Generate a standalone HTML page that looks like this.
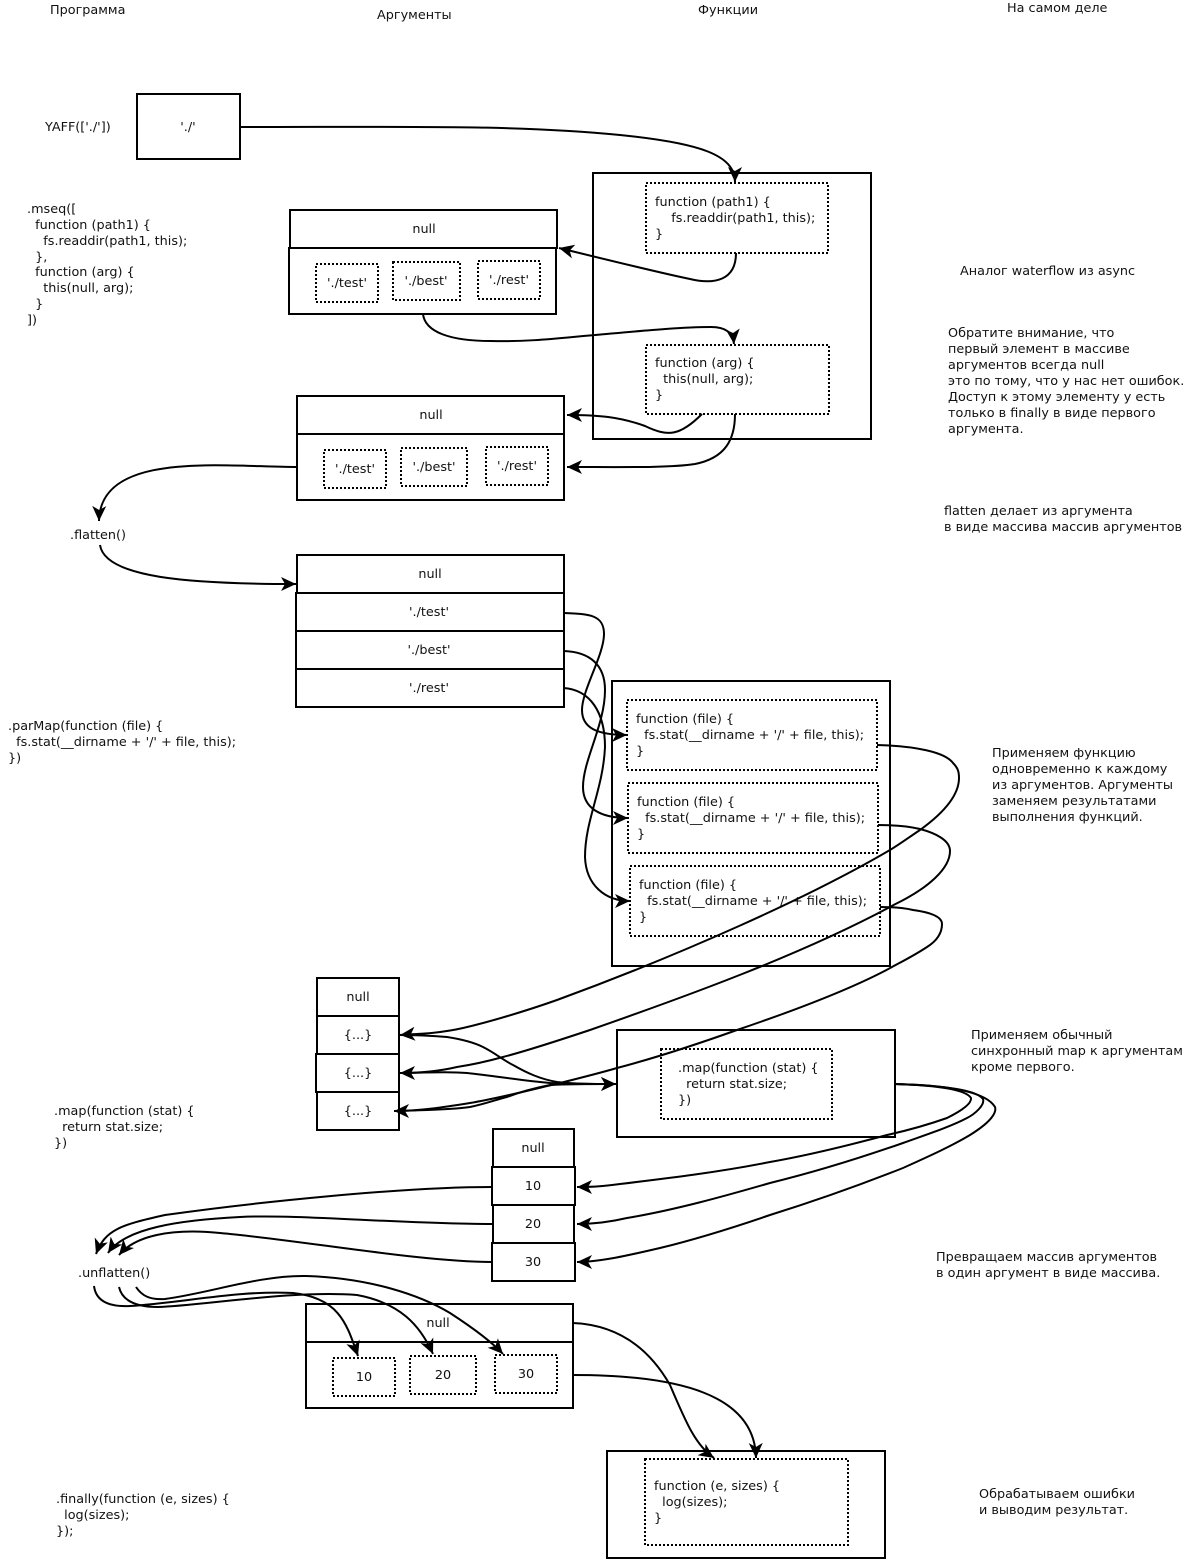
<!DOCTYPE html>
<html><head><meta charset="utf-8"><style>
html,body{margin:0;padding:0;background:#fff}
svg{display:block}
text{font-family:"DejaVu Sans",sans-serif;font-size:12.8px;fill:#111;white-space:pre}
.c{text-anchor:middle}
.b{fill:none;stroke:#000;stroke-width:2}
.d{fill:none;stroke:#000;stroke-width:2;stroke-dasharray:2 2}
.l{fill:none;stroke:#000;stroke-width:2}
.a{marker-end:url(#ah)}
</style></head><body>
<svg width="1186" height="1560" viewBox="0 0 1186 1560" xmlns="http://www.w3.org/2000/svg">
<defs><marker id="ah" markerUnits="userSpaceOnUse" markerWidth="16" markerHeight="16" viewBox="0 0 16 16" refX="15" refY="8" orient="auto" overflow="visible"><path d="M15,8 L0,1 L4,8 L0,15 Z" fill="#000"/></marker></defs>

<text x="50" y="14">Программа</text>
<text x="377" y="19">Аргументы</text>
<text x="698" y="14">Функции</text>
<text x="1007" y="12">На самом деле</text>

<rect class="b" x="137" y="94" width="103" height="65"/>
<text x="45" y="131">YAFF(['./'])</text>
<text class="c" x="188" y="131">'./'</text>

<text x="27" y="213">.mseq([</text>
<text x="27" y="229">  function (path1) {</text>
<text x="27" y="245">    fs.readdir(path1, this);</text>
<text x="27" y="261">  },</text>
<text x="27" y="276">  function (arg) {</text>
<text x="27" y="292">    this(null, arg);</text>
<text x="27" y="308">  }</text>
<text x="27" y="324">])</text>

<rect class="b" x="593" y="173" width="278" height="266"/>
<rect class="d" x="646" y="183" width="182" height="70"/>
<text x="655" y="206">function (path1) {</text>
<text x="655" y="222">    fs.readdir(path1, this);</text>
<text x="655" y="238">}</text>
<rect class="d" x="646" y="345" width="183" height="69"/>
<text x="655" y="367">function (arg) {</text>
<text x="655" y="383">  this(null, arg);</text>
<text x="655" y="399">}</text>

<rect class="b" x="290" y="210" width="267" height="38"/>
<rect class="b" x="289" y="248" width="267" height="66"/>
<text class="c" x="424" y="233">null</text>
<rect class="d" x="316" y="264" width="62" height="38"/>
<rect class="d" x="393" y="262" width="67" height="38"/>
<rect class="d" x="478" y="261" width="62" height="38"/>
<text class="c" x="347" y="287">'./test'</text>
<text class="c" x="426" y="285">'./best'</text>
<text class="c" x="509" y="284">'./rest'</text>

<rect class="b" x="297" y="396" width="267" height="38"/>
<rect class="b" x="297" y="434" width="267" height="66"/>
<text class="c" x="431" y="419">null</text>
<rect class="d" x="324" y="450" width="62" height="38"/>
<rect class="d" x="401" y="448" width="66" height="38"/>
<rect class="d" x="486" y="447" width="62" height="38"/>
<text class="c" x="355" y="473">'./test'</text>
<text class="c" x="434" y="471">'./best'</text>
<text class="c" x="517" y="470">'./rest'</text>

<text x="960" y="275">Аналог waterflow из async</text>
<text x="948" y="337">Обратите внимание, что</text>
<text x="948" y="353">первый элемент в массиве</text>
<text x="948" y="369">аргументов всегда null</text>
<text x="948" y="385">это по тому, что у нас нет ошибок.</text>
<text x="948" y="401">Доступ к этому элементу у есть</text>
<text x="948" y="417">только в finally в виде первого</text>
<text x="948" y="433">аргумента.</text>
<text x="944" y="515">flatten делает из аргумента</text>
<text x="944" y="531">в виде массива массив аргументов</text>

<text x="70" y="539">.flatten()</text>

<rect class="b" x="297" y="555" width="267" height="38"/>
<rect class="b" x="296" y="593" width="268" height="38"/>
<rect class="b" x="296" y="631" width="268" height="38"/>
<rect class="b" x="296" y="669" width="268" height="38"/>
<text class="c" x="430" y="578">null</text>
<text class="c" x="429" y="616">'./test'</text>
<text class="c" x="429" y="654">'./best'</text>
<text class="c" x="429" y="692">'./rest'</text>

<text x="8" y="730">.parMap(function (file) {</text>
<text x="8" y="746">  fs.stat(__dirname + '/' + file, this);</text>
<text x="8" y="762">})</text>

<rect class="b" x="612" y="681" width="278" height="285"/>
<rect class="d" x="627" y="700" width="250" height="70"/>
<rect class="d" x="628" y="783" width="250" height="70"/>
<rect class="d" x="630" y="866" width="250" height="70"/>
<text x="636" y="723">function (file) {</text>
<text x="636" y="739">  fs.stat(__dirname + '/' + file, this);</text>
<text x="636" y="755">}</text>
<text x="637" y="806">function (file) {</text>
<text x="637" y="822">  fs.stat(__dirname + '/' + file, this);</text>
<text x="637" y="838">}</text>
<text x="639" y="889">function (file) {</text>
<text x="639" y="905">  fs.stat(__dirname + '/' + file, this);</text>
<text x="639" y="921">}</text>

<text x="992" y="757">Применяем функцию</text>
<text x="992" y="773">одновременно к каждому</text>
<text x="992" y="789">из аргументов. Аргументы</text>
<text x="992" y="805">заменяем результатами</text>
<text x="992" y="821">выполнения функций.</text>

<rect class="b" x="317" y="978" width="82" height="38"/>
<rect class="b" x="317" y="1016" width="82" height="38"/>
<rect class="b" x="316" y="1054" width="83" height="38"/>
<rect class="b" x="317" y="1092" width="82" height="38"/>
<text class="c" x="358" y="1001">null</text>
<text class="c" x="358" y="1039">{...}</text>
<text class="c" x="358" y="1077">{...}</text>
<text class="c" x="358" y="1115">{...}</text>

<rect class="b" x="617" y="1030" width="278" height="107"/>
<rect class="d" x="661" y="1049" width="171" height="70"/>
<text x="678" y="1072">.map(function (stat) {</text>
<text x="678" y="1088">  return stat.size;</text>
<text x="678" y="1104">})</text>

<text x="971" y="1039">Применяем обычный</text>
<text x="971" y="1055">синхронный map к аргументам</text>
<text x="971" y="1071">кроме первого.</text>

<text x="54" y="1115">.map(function (stat) {</text>
<text x="54" y="1131">  return stat.size;</text>
<text x="54" y="1147">})</text>

<rect class="b" x="493" y="1129" width="81" height="38"/>
<rect class="b" x="492" y="1167" width="83" height="38"/>
<rect class="b" x="493" y="1205" width="81" height="38"/>
<rect class="b" x="492" y="1243" width="83" height="38"/>
<text class="c" x="533" y="1152">null</text>
<text class="c" x="533" y="1190">10</text>
<text class="c" x="533" y="1228">20</text>
<text class="c" x="533" y="1266">30</text>

<text x="78" y="1277">.unflatten()</text>
<text x="936" y="1261">Превращаем массив аргументов</text>
<text x="936" y="1277">в один аргумент в виде массива.</text>

<rect class="b" x="306" y="1304" width="267" height="38"/>
<rect class="b" x="306" y="1342" width="267" height="66"/>
<text class="c" x="438" y="1327">null</text>
<rect class="d" x="333" y="1358" width="62" height="38"/>
<rect class="d" x="410" y="1356" width="66" height="38"/>
<rect class="d" x="495" y="1355" width="62" height="38"/>
<text class="c" x="364" y="1381">10</text>
<text class="c" x="443" y="1379">20</text>
<text class="c" x="526" y="1378">30</text>

<rect class="b" x="607" y="1451" width="278" height="107"/>
<rect class="d" x="645" y="1459" width="203" height="86"/>
<text x="654" y="1490">function (e, sizes) {</text>
<text x="654" y="1506">  log(sizes);</text>
<text x="654" y="1522">}</text>

<text x="56" y="1503">.finally(function (e, sizes) {</text>
<text x="56" y="1519">  log(sizes);</text>
<text x="56" y="1535">});</text>

<text x="979" y="1498">Обрабатываем ошибки</text>
<text x="979" y="1514">и выводим результат.</text>

<!-- connectors -->
<path class="l a" d="M241,127 C420,127 520,125 620,135 C700,143 735,155 735,182"/>
<path class="l a" d="M736,253 C736,280 715,285 690,279 C670,275 620,263 559,248"/>
<path class="l a" d="M423,314 C425,332 450,341 491,341 C530,342 560,338 595,335 C640,331 680,327 711,327 C725,327 733,332 734,344"/>
<path class="l a" d="M702,414 C680,436 668,437 645,426 C620,417 600,415 567,415"/>
<path class="l a" d="M735,414 C735,440 725,458 695,464 C670,468 620,467 567,467"/>
<path class="l a" d="M297,467 C225,467 100,450 99,521"/>
<path class="l a" d="M100,545 C105,578 190,584 296,584"/>

<path class="l a" d="M564,613 C590,614 604,615 604,634 C604,655 582,690 582,710 C582,728 597,735 627,735"/>
<path class="l a" d="M564,651 C590,652 605,665 605,690 C605,725 583,760 583,787 C583,808 600,818 628,818"/>
<path class="l a" d="M564,688 C590,690 605,712 605,747 C603,790 585,820 585,857 C586,885 605,901 630,901"/>

<path class="l a" d="M877,745 C915,746 945,752 953,763 C958,768 959,772 959,778 C959,798 938,817 920,830 C908,838 900,844 890,850 C810,897 680,955 557,1000 C526,1011 489,1022 463,1028 C437,1034 412,1034 400,1035"/>
<path class="l a" d="M878,825 C895,825 908,826 920,829 C935,833 950,840 950,851 C950,870 925,888 907,898 C900,902 895,904 890,907 C800,955 690,995 590,1030 C560,1040 530,1050 503,1057 C485,1062 470,1065 457,1067 C440,1071 420,1073 400,1073"/>
<path class="l a" d="M880,907 C895,907 905,908 913,910 C928,912 942,916 942,924 C942,935 935,942 927,947 C915,955 905,960 892,967 C850,990 790,1012 737,1030 C695,1045 655,1058 617,1068 C600,1073 580,1078 560,1083 C530,1090 500,1098 470,1103 C445,1107 420,1111 394,1111"/>

<path class="l a" d="M400,1035 C420,1035 435,1036 447,1037 C460,1039 473,1042 483,1047 C495,1053 503,1060 513,1065 C527,1073 540,1079 557,1082 C575,1084 595,1084 616,1084"/>
<path class="l a" d="M400,1073 C425,1073 445,1071 467,1073 C495,1076 525,1081 550,1083 C570,1084 590,1084 616,1084"/>
<path class="l" d="M400,1111 C420,1110 450,1110 470,1107 C485,1104 495,1100 507,1097 C520,1092 535,1088 550,1085 C570,1084 590,1084 616,1084"/>

<path class="l a" d="M895,1084 C925,1085 965,1088 971,1098 C972,1105 955,1114 947,1118 C930,1124 905,1131 887,1135 C850,1145 810,1155 770,1162 C720,1172 670,1178 620,1184 C605,1186 595,1187 577,1187"/>
<path class="l a" d="M895,1084 C930,1085 975,1088 983,1099 C985,1105 975,1114 967,1118 C950,1127 925,1135 903,1143 C860,1158 815,1172 770,1183 C725,1196 675,1210 627,1218 C610,1222 595,1224 577,1224"/>
<path class="l a" d="M895,1084 C940,1085 985,1090 995,1107 C996,1110 995,1113 992,1117 C987,1124 978,1130 970,1135 C950,1147 925,1158 903,1168 C860,1185 815,1201 770,1215 C735,1227 697,1239 660,1248 C630,1255 600,1262 577,1262"/>

<path class="l a" d="M492,1187 C400,1187 250,1203 165,1215 C120,1225 105,1230 96,1254"/>
<path class="l a" d="M492,1224 C400,1224 300,1214 240,1217 C180,1220 125,1228 108,1253"/>
<path class="l a" d="M492,1262 C420,1262 300,1240 220,1233 C170,1228 135,1236 119,1255"/>

<path class="l a" d="M94,1286 C96,1302 110,1307 130,1306 C180,1303 240,1290 293,1293 C340,1298 347,1325 358,1356"/>
<path class="l a" d="M119,1287 C122,1300 135,1307 158,1307 C200,1306 290,1290 357,1295 C400,1303 420,1325 433,1354"/>
<path class="l a" d="M136,1287 C142,1296 150,1300 165,1299 C210,1293 260,1275 306,1276 C370,1278 420,1295 450,1313 C470,1326 490,1340 503,1354"/>

<path class="l a" d="M573,1323 C620,1325 650,1350 670,1385 C685,1420 695,1445 714,1458"/>
<path class="l a" d="M573,1375 C680,1375 755,1395 756,1458"/>
</svg>
</body></html>
